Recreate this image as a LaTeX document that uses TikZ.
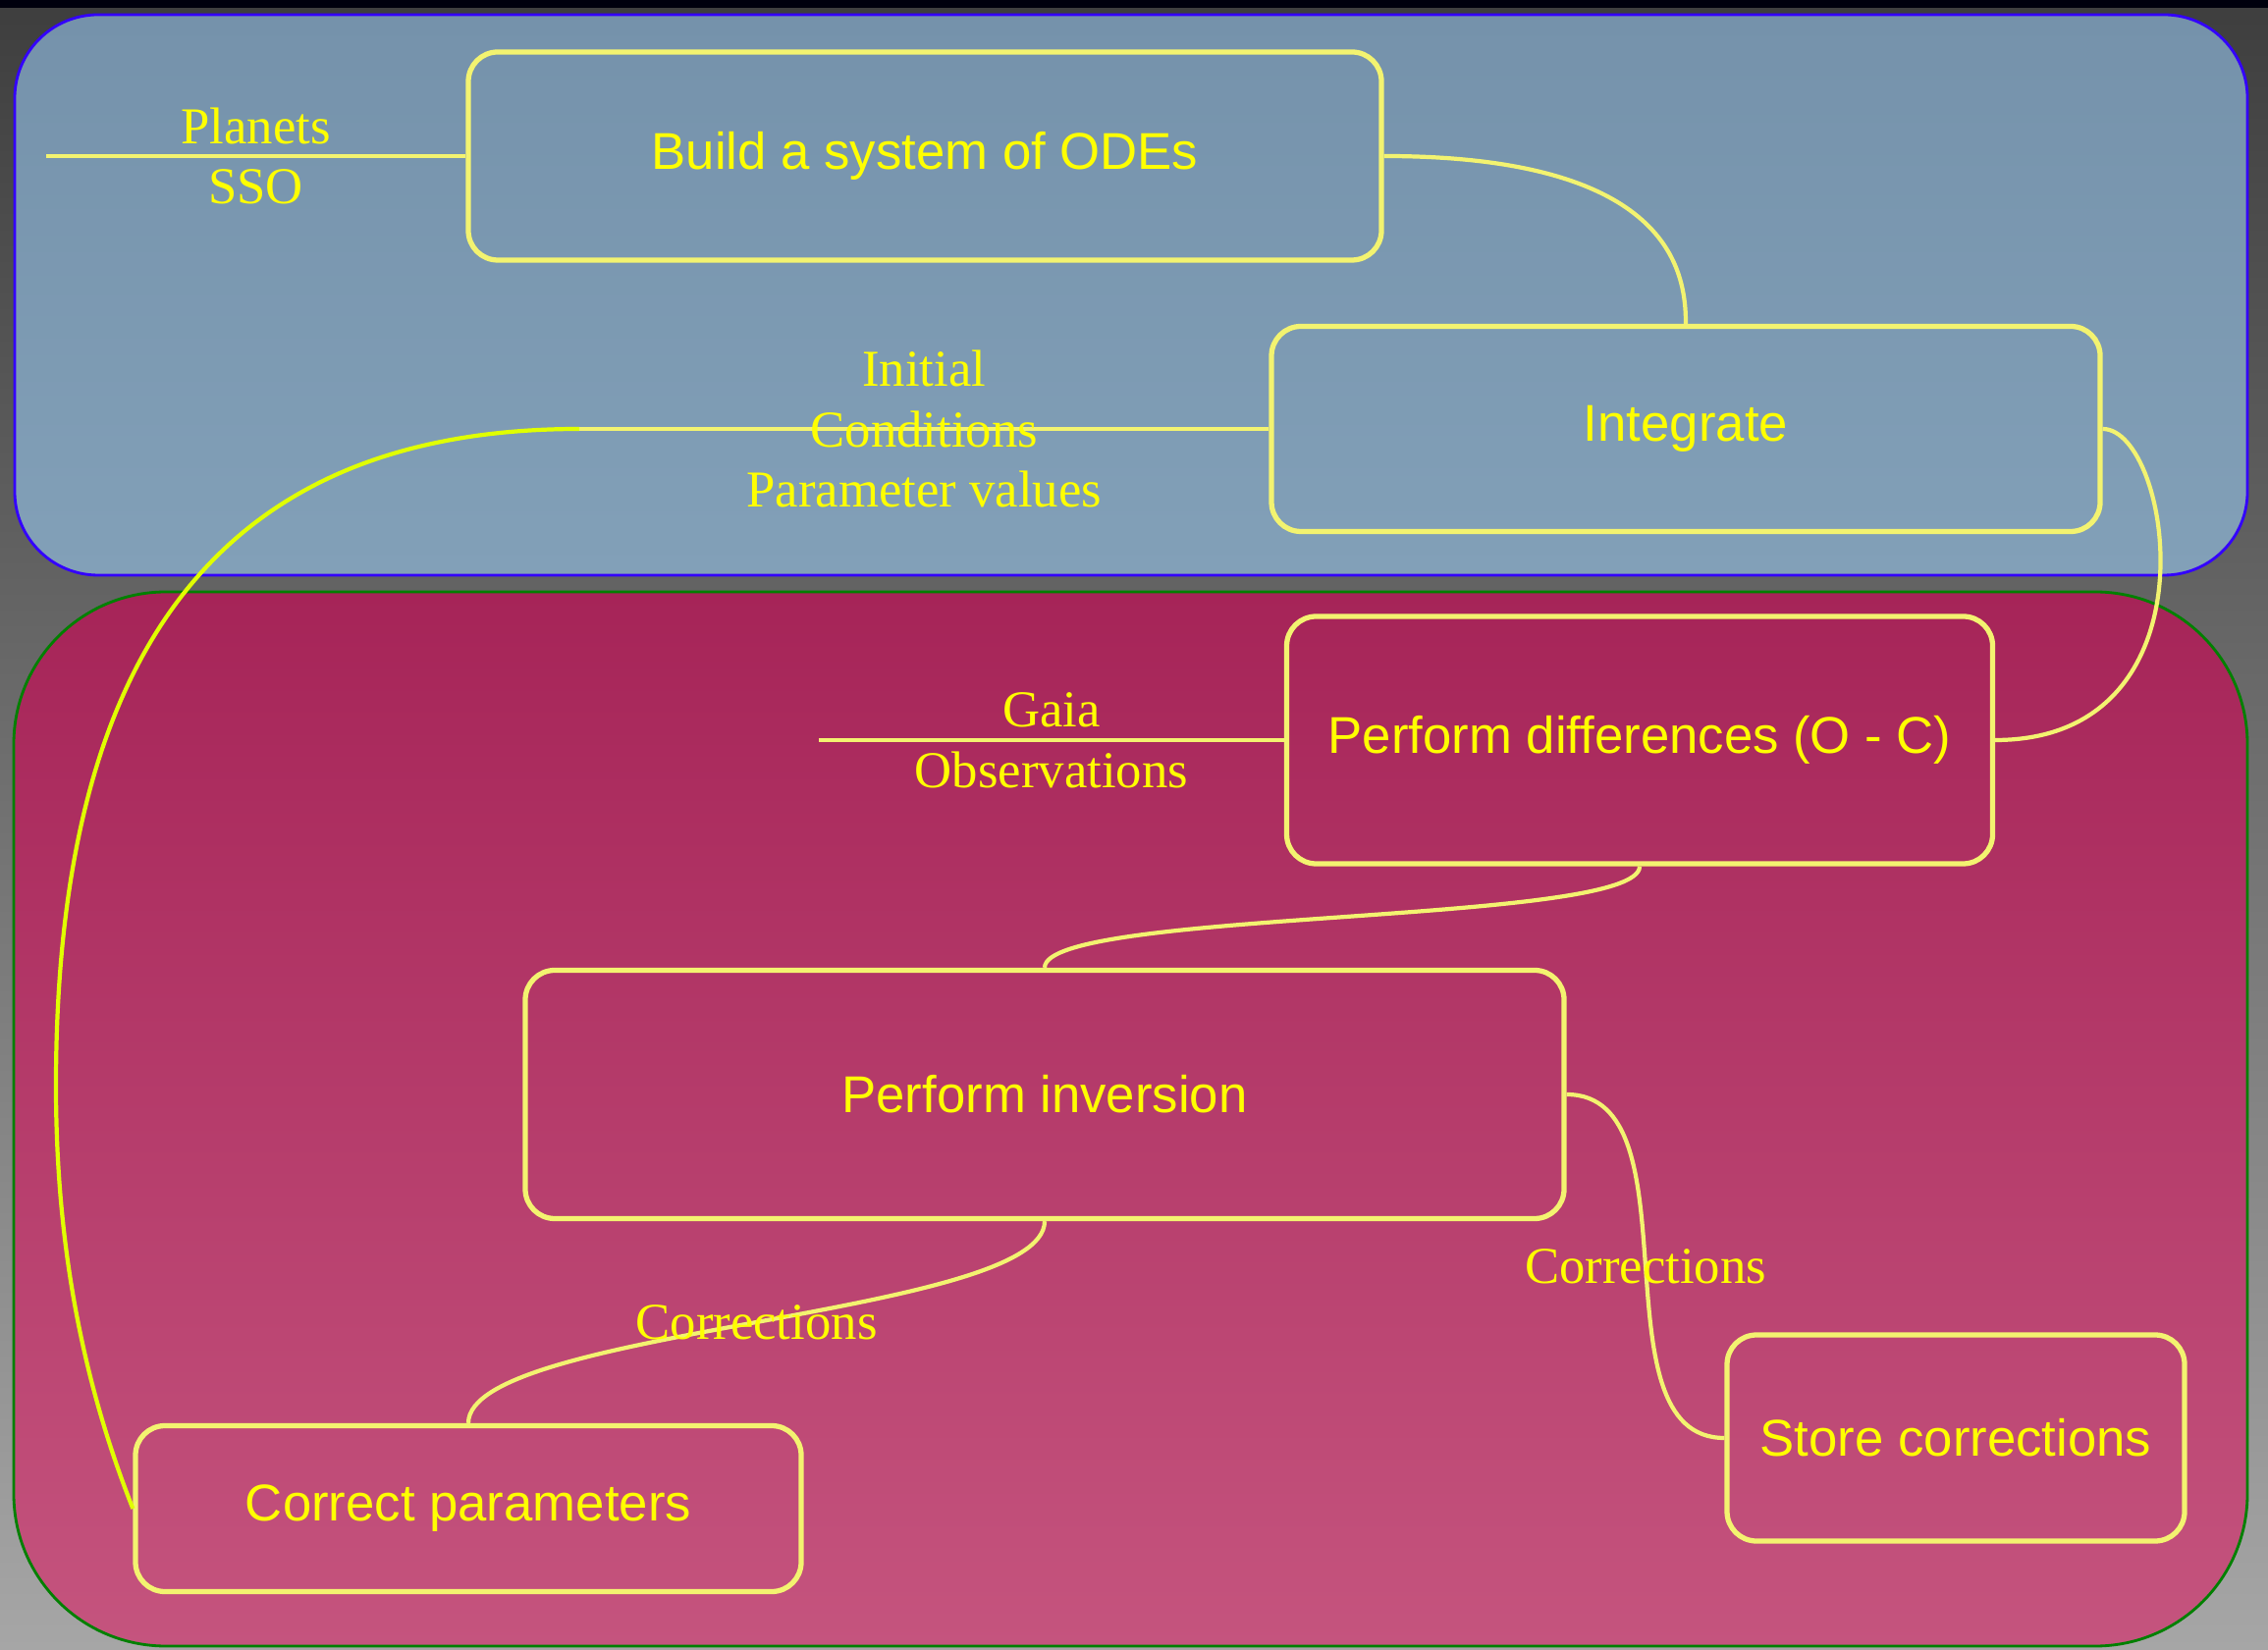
\documentclass[tikz,border=0pt]{standalone}
\usepackage{fontspec}
\setmainfont{Liberation Serif}
\setsansfont{Liberation Sans}
\definecolor{bgtop}{RGB}{62,62,62}
\definecolor{bgbot}{RGB}{166,166,166}
\definecolor{odetop}{RGB}{117,146,171}
\definecolor{odebot}{RGB}{130,160,184}
\definecolor{odeline}{RGB}{51,0,255}
\definecolor{gaiatop}{RGB}{166,36,88}
\definecolor{gaiabot}{RGB}{197,84,126}
\definecolor{gaialine}{RGB}{0,128,0}
\definecolor{boxline}{RGB}{243,243,112}
\definecolor{txt}{RGB}{255,255,0}
\definecolor{feedback}{RGB}{224,255,0}
\begin{document}
\begin{tikzpicture}[
    taskbox/.style={draw=boxline, line width=1.5pt, rounded corners=0.3cm, inner sep=0pt,
        text=txt, font=\sffamily\fontsize{15}{18}\selectfont},
    flow/.style={draw=boxline, line width=1.2pt},
    tag/.style={text=txt, font=\fontsize{15}{17.6}\selectfont, align=center, inner sep=0pt}]
    \useasboundingbox (0,0) rectangle (23.1,16.8);
    \shade[top color=bgtop, bottom color=bgbot] (0,0) rectangle (23.1,16.8);
    \fill[black!95!blue] (0,16.72) rectangle (23.1,16.8);
    \draw[odeline, line width=0.8pt, rounded corners=0.85cm, top color=odetop, bottom color=odebot]
        (0.15,10.94) rectangle (22.89,16.65);
    \draw[gaialine, line width=0.8pt, rounded corners=1.55cm, top color=gaiatop, bottom color=gaiabot]
        (0.14,0.03) rectangle (22.89,10.77);

    \node[taskbox, minimum width=9.30cm, minimum height=2.12cm] (build) at (9.42,15.21) {Build a system of ODEs};
    \node[taskbox, minimum width=8.44cm, minimum height=2.09cm] (integ) at (17.17,12.43) {Integrate};
    \node[taskbox, minimum width=7.19cm, minimum height=2.52cm] (diff) at (16.70,9.26) {Perform differences (O - C)};
    \node[taskbox, minimum width=10.58cm, minimum height=2.53cm] (inv) at (10.64,5.65) {Perform inversion};
    \node[taskbox, minimum width=6.78cm, minimum height=1.69cm] (corr) at (4.77,1.43) {Correct parameters};
    \node[taskbox, minimum width=4.66cm, minimum height=2.10cm] (store) at (19.92,2.15) {Store corrections};

    \coordinate (planets) at (0.47,15.21);
    \coordinate (gaia) at (8.34,9.26);
    \coordinate (ic) at (5.90,12.43);

    \draw[flow] (planets) -- (build.west) node[tag, midway] {Planets\\SSO};
    \draw[flow] (build.east) to[out=0, in=90, out distance=2.9cm, in distance=0.55cm] (integ.north);
    \draw[flow] (integ.east) to[out=0, in=0, out distance=0.7cm, in distance=2.3cm] (diff.east);
    \draw[flow] (gaia) -- (diff.west) node[tag, midway] {Gaia\\Observations};
    \draw[flow] (diff.south) to[out=-90, in=90, looseness=0.25] (inv.north);
    \draw[flow] (inv.south) to[out=-90, in=90, looseness=0.4] node[tag] {Corrections} (corr.north);
    \draw[flow] (inv.east) to[out=0, in=180, looseness=0.9] node[tag] {Corrections} (store.west);
    \draw[flow] (integ.west) -- (ic) node[tag, midway] {Initial\\Conditions\\Parameter values};
    \draw[feedback, line width=1.2pt] (ic) .. controls (2.3,12.43) and (0.57,10.24) .. (0.57,5.74)
        .. controls (0.57,4.24) and (0.80,2.83) .. (corr.west);
\end{tikzpicture}
\end{document}
